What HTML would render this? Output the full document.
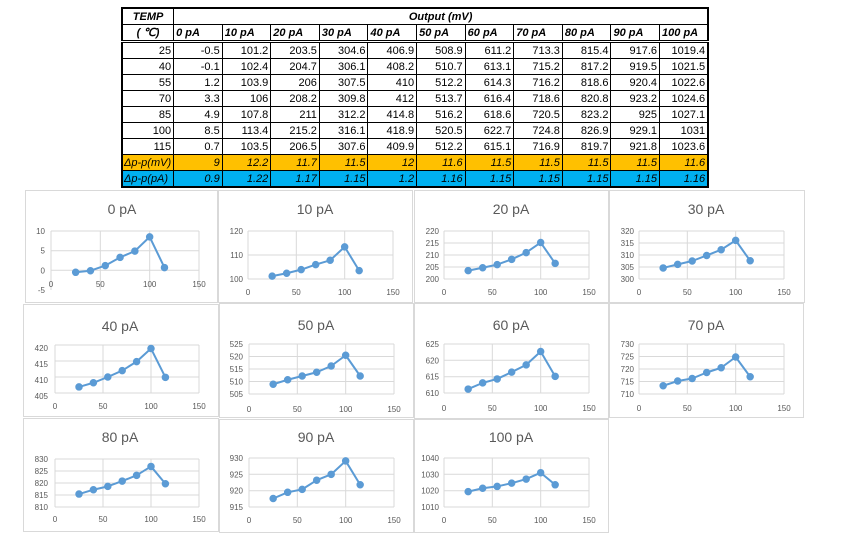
<!DOCTYPE html>
<html><head><meta charset="utf-8"><style>
body{margin:0;width:848px;height:535px;background:#fff;position:relative;overflow:hidden;font-family:"Liberation Sans",sans-serif}
table{position:absolute;left:121px;top:7px;border-collapse:collapse;border:2px solid #000;font-size:11px;table-layout:fixed}
td{border:1px solid #000;padding:0 2px;height:15px;text-align:right;line-height:14px;white-space:nowrap;overflow:hidden}
.h{font-weight:bold;font-style:italic;text-align:left}
.c{text-align:center}
tr.hb td{border-bottom:3px double #000}
tr.o td{background:#FFC000;font-style:italic}
tr.b td{background:#00B0F0;font-style:italic}
tr.o td:first-child,tr.b td:first-child{text-align:left;padding-left:1px}
svg{position:absolute;left:0;top:0}
.pan{fill:#fff;stroke:#d9d9d9;stroke-width:1}
.t{font-size:14px;fill:#595959;text-anchor:middle}
.g{stroke:#d9d9d9;stroke-width:1}
.yl{font-size:8px;fill:#595959;text-anchor:end}
.xl{font-size:8px;fill:#595959;text-anchor:middle}
.ln{fill:none;stroke:#5B9BD5;stroke-width:2;vector-effect:non-scaling-stroke;stroke-linejoin:round}
.dt{fill:none;stroke:#5B9BD5;stroke-width:7.5;stroke-linecap:round;vector-effect:non-scaling-stroke}
</style></head><body>
<table>
<colgroup><col style="width:46px"><col span="11" style="width:48.6px"></colgroup>
<tr><td class="h c">TEMP</td><td class="h c" colspan="11">Output (mV)</td></tr>
<tr class="hb"><td class="h c">( ℃)</td><td class="h">0 pA</td><td class="h">10 pA</td><td class="h">20 pA</td><td class="h">30 pA</td><td class="h">40 pA</td><td class="h">50 pA</td><td class="h">60 pA</td><td class="h">70 pA</td><td class="h">80 pA</td><td class="h">90 pA</td><td class="h">100 pA</td></tr>
<tr><td>25</td><td>-0.5</td><td>101.2</td><td>203.5</td><td>304.6</td><td>406.9</td><td>508.9</td><td>611.2</td><td>713.3</td><td>815.4</td><td>917.6</td><td>1019.4</td></tr>
<tr><td>40</td><td>-0.1</td><td>102.4</td><td>204.7</td><td>306.1</td><td>408.2</td><td>510.7</td><td>613.1</td><td>715.2</td><td>817.2</td><td>919.5</td><td>1021.5</td></tr>
<tr><td>55</td><td>1.2</td><td>103.9</td><td>206</td><td>307.5</td><td>410</td><td>512.2</td><td>614.3</td><td>716.2</td><td>818.6</td><td>920.4</td><td>1022.6</td></tr>
<tr><td>70</td><td>3.3</td><td>106</td><td>208.2</td><td>309.8</td><td>412</td><td>513.7</td><td>616.4</td><td>718.6</td><td>820.8</td><td>923.2</td><td>1024.6</td></tr>
<tr><td>85</td><td>4.9</td><td>107.8</td><td>211</td><td>312.2</td><td>414.8</td><td>516.2</td><td>618.6</td><td>720.5</td><td>823.2</td><td>925</td><td>1027.1</td></tr>
<tr><td>100</td><td>8.5</td><td>113.4</td><td>215.2</td><td>316.1</td><td>418.9</td><td>520.5</td><td>622.7</td><td>724.8</td><td>826.9</td><td>929.1</td><td>1031</td></tr>
<tr><td>115</td><td>0.7</td><td>103.5</td><td>206.5</td><td>307.6</td><td>409.9</td><td>512.2</td><td>615.1</td><td>716.9</td><td>819.7</td><td>921.8</td><td>1023.6</td></tr>
<tr class="o"><td>Δp-p(mV)</td><td>9</td><td>12.2</td><td>11.7</td><td>11.5</td><td>12</td><td>11.6</td><td>11.5</td><td>11.5</td><td>11.5</td><td>11.5</td><td>11.6</td></tr>
<tr class="b"><td>Δp-p(pA)</td><td>0.9</td><td>1.22</td><td>1.17</td><td>1.15</td><td>1.2</td><td>1.16</td><td>1.15</td><td>1.15</td><td>1.15</td><td>1.15</td><td>1.16</td></tr>
</table>
<svg width="848" height="535" style="top:0;pointer-events:none">
<g transform="translate(25,190)">
<rect class="pan" x="0.5" y="0.5" width="192" height="112"/>
<text class="t" x="97" y="24">0 pA</text>
<line class="g" x1="26" y1="41" x2="174" y2="41"/><line class="g" x1="26" y1="60.7" x2="174" y2="60.7"/><line class="g" x1="26" y1="80.3" x2="174" y2="80.3"/>
<line class="g" x1="26" y1="41" x2="26" y2="100"/><line class="g" x1="75.3" y1="41" x2="75.3" y2="100"/><line class="g" x1="124.7" y1="41" x2="124.7" y2="100"/><line class="g" x1="174" y1="41" x2="174" y2="100"/>
<text class="yl" x="20" y="44">10</text><text class="yl" x="20" y="63.7">5</text><text class="yl" x="20" y="83.3">0</text><text class="yl" x="20" y="103">-5</text>
<text class="xl" x="26" y="97">0</text><text class="xl" x="75.3" y="97">50</text><text class="xl" x="124.7" y="97">100</text><text class="xl" x="174" y="97">150</text>
<g transform="translate(26,100) scale(0.9867,-3.933) translate(0,5)">
<polyline class="ln" points="25,-0.5 40,-0.1 55,1.2 70,3.3 85,4.9 100,8.5 115,0.7"/>
<path class="dt" d="M25 -0.5h0M40 -0.1h0M55 1.2h0M70 3.3h0M85 4.9h0M100 8.5h0M115 0.7h0"/></g>
</g>
<g transform="translate(218,190)">
<rect class="pan" x="0.5" y="0.5" width="194" height="112"/>
<text class="t" x="97" y="24">10 pA</text>
<line class="g" x1="30" y1="41" x2="175" y2="41"/><line class="g" x1="30" y1="65" x2="175" y2="65"/><line class="g" x1="30" y1="89" x2="175" y2="89"/>
<line class="g" x1="30" y1="41" x2="30" y2="89"/><line class="g" x1="78.3" y1="41" x2="78.3" y2="89"/><line class="g" x1="126.7" y1="41" x2="126.7" y2="89"/><line class="g" x1="175" y1="41" x2="175" y2="89"/>
<text class="yl" x="25" y="44">120</text><text class="yl" x="25" y="68">110</text><text class="yl" x="25" y="92">100</text>
<text class="xl" x="30" y="105">0</text><text class="xl" x="78.3" y="105">50</text><text class="xl" x="126.7" y="105">100</text><text class="xl" x="175" y="105">150</text>
<g transform="translate(30,89) scale(0.9667,-2.4) translate(0,-100)">
<polyline class="ln" points="25,101.2 40,102.4 55,103.9 70,106 85,107.8 100,113.4 115,103.5"/>
<path class="dt" d="M25 101.2h0M40 102.4h0M55 103.9h0M70 106h0M85 107.8h0M100 113.4h0M115 103.5h0"/></g>
</g>
<g transform="translate(414,190)">
<rect class="pan" x="0.5" y="0.5" width="194" height="112"/>
<text class="t" x="97" y="24">20 pA</text>
<line class="g" x1="30" y1="41" x2="175" y2="41"/><line class="g" x1="30" y1="53" x2="175" y2="53"/><line class="g" x1="30" y1="65" x2="175" y2="65"/><line class="g" x1="30" y1="77" x2="175" y2="77"/><line class="g" x1="30" y1="89" x2="175" y2="89"/>
<line class="g" x1="30" y1="41" x2="30" y2="89"/><line class="g" x1="78.3" y1="41" x2="78.3" y2="89"/><line class="g" x1="126.7" y1="41" x2="126.7" y2="89"/><line class="g" x1="175" y1="41" x2="175" y2="89"/>
<text class="yl" x="25" y="44">220</text><text class="yl" x="25" y="56">215</text><text class="yl" x="25" y="68">210</text><text class="yl" x="25" y="80">205</text><text class="yl" x="25" y="92">200</text>
<text class="xl" x="30" y="105">0</text><text class="xl" x="78.3" y="105">50</text><text class="xl" x="126.7" y="105">100</text><text class="xl" x="175" y="105">150</text>
<g transform="translate(30,89) scale(0.9667,-2.4) translate(0,-200)">
<polyline class="ln" points="25,203.5 40,204.7 55,206 70,208.2 85,211 100,215.2 115,206.5"/>
<path class="dt" d="M25 203.5h0M40 204.7h0M55 206h0M70 208.2h0M85 211h0M100 215.2h0M115 206.5h0"/></g>
</g>
<g transform="translate(609,190)">
<rect class="pan" x="0.5" y="0.5" width="195" height="112"/>
<text class="t" x="97" y="24">30 pA</text>
<line class="g" x1="30" y1="41" x2="175" y2="41"/><line class="g" x1="30" y1="53" x2="175" y2="53"/><line class="g" x1="30" y1="65" x2="175" y2="65"/><line class="g" x1="30" y1="77" x2="175" y2="77"/><line class="g" x1="30" y1="89" x2="175" y2="89"/>
<line class="g" x1="30" y1="41" x2="30" y2="89"/><line class="g" x1="78.3" y1="41" x2="78.3" y2="89"/><line class="g" x1="126.7" y1="41" x2="126.7" y2="89"/><line class="g" x1="175" y1="41" x2="175" y2="89"/>
<text class="yl" x="25" y="44">320</text><text class="yl" x="25" y="56">315</text><text class="yl" x="25" y="68">310</text><text class="yl" x="25" y="80">305</text><text class="yl" x="25" y="92">300</text>
<text class="xl" x="30" y="105">0</text><text class="xl" x="78.3" y="105">50</text><text class="xl" x="126.7" y="105">100</text><text class="xl" x="175" y="105">150</text>
<g transform="translate(30,89) scale(0.9667,-2.4) translate(0,-300)">
<polyline class="ln" points="25,304.6 40,306.1 55,307.5 70,309.8 85,312.2 100,316.1 115,307.6"/>
<path class="dt" d="M25 304.6h0M40 306.1h0M55 307.5h0M70 309.8h0M85 312.2h0M100 316.1h0M115 307.6h0"/></g>
</g>
<g transform="translate(23,304)">
<rect class="pan" x="0.5" y="0.5" width="195" height="112"/>
<text class="t" x="97" y="27">40 pA</text>
<line class="g" x1="32" y1="41" x2="176" y2="41"/><line class="g" x1="32" y1="57" x2="176" y2="57"/><line class="g" x1="32" y1="73" x2="176" y2="73"/><line class="g" x1="32" y1="89" x2="176" y2="89"/>
<line class="g" x1="32" y1="41" x2="32" y2="89"/><line class="g" x1="80" y1="41" x2="80" y2="89"/><line class="g" x1="128" y1="41" x2="128" y2="89"/><line class="g" x1="176" y1="41" x2="176" y2="89"/>
<text class="yl" x="25" y="47">420</text><text class="yl" x="25" y="63">415</text><text class="yl" x="25" y="79">410</text><text class="yl" x="25" y="95">405</text>
<text class="xl" x="32" y="105">0</text><text class="xl" x="80" y="105">50</text><text class="xl" x="128" y="105">100</text><text class="xl" x="176" y="105">150</text>
<g transform="translate(32,89) scale(0.96,-3.2) translate(0,-405)">
<polyline class="ln" points="25,406.9 40,408.2 55,410 70,412 85,414.8 100,418.9 115,409.9"/>
<path class="dt" d="M25 406.9h0M40 408.2h0M55 410h0M70 412h0M85 414.8h0M100 418.9h0M115 409.9h0"/></g>
</g>
<g transform="translate(219,303)">
<rect class="pan" x="0.5" y="0.5" width="194" height="114"/>
<text class="t" x="97" y="27">50 pA</text>
<line class="g" x1="30" y1="41" x2="175" y2="41"/><line class="g" x1="30" y1="53.5" x2="175" y2="53.5"/><line class="g" x1="30" y1="66" x2="175" y2="66"/><line class="g" x1="30" y1="78.5" x2="175" y2="78.5"/><line class="g" x1="30" y1="91" x2="175" y2="91"/>
<line class="g" x1="30" y1="41" x2="30" y2="91"/><line class="g" x1="78.3" y1="41" x2="78.3" y2="91"/><line class="g" x1="126.7" y1="41" x2="126.7" y2="91"/><line class="g" x1="175" y1="41" x2="175" y2="91"/>
<text class="yl" x="24" y="44">525</text><text class="yl" x="24" y="56.5">520</text><text class="yl" x="24" y="69">515</text><text class="yl" x="24" y="81.5">510</text><text class="yl" x="24" y="94">505</text>
<text class="xl" x="30" y="109">0</text><text class="xl" x="78.3" y="109">50</text><text class="xl" x="126.7" y="109">100</text><text class="xl" x="175" y="109">150</text>
<g transform="translate(30,91) scale(0.9667,-2.5) translate(0,-505)">
<polyline class="ln" points="25,508.9 40,510.7 55,512.2 70,513.7 85,516.2 100,520.5 115,512.2"/>
<path class="dt" d="M25 508.9h0M40 510.7h0M55 512.2h0M70 513.7h0M85 516.2h0M100 520.5h0M115 512.2h0"/></g>
</g>
<g transform="translate(414,303)">
<rect class="pan" x="0.5" y="0.5" width="194" height="115"/>
<text class="t" x="97" y="27">60 pA</text>
<line class="g" x1="30" y1="41" x2="175" y2="41"/><line class="g" x1="30" y1="57.3" x2="175" y2="57.3"/><line class="g" x1="30" y1="73.7" x2="175" y2="73.7"/><line class="g" x1="30" y1="90" x2="175" y2="90"/>
<line class="g" x1="30" y1="41" x2="30" y2="90"/><line class="g" x1="78.3" y1="41" x2="78.3" y2="90"/><line class="g" x1="126.7" y1="41" x2="126.7" y2="90"/><line class="g" x1="175" y1="41" x2="175" y2="90"/>
<text class="yl" x="25" y="44">625</text><text class="yl" x="25" y="60.3">620</text><text class="yl" x="25" y="76.7">615</text><text class="yl" x="25" y="93">610</text>
<text class="xl" x="30" y="108">0</text><text class="xl" x="78.3" y="108">50</text><text class="xl" x="126.7" y="108">100</text><text class="xl" x="175" y="108">150</text>
<g transform="translate(30,90) scale(0.9667,-3.267) translate(0,-610)">
<polyline class="ln" points="25,611.2 40,613.1 55,614.3 70,616.4 85,618.6 100,622.7 115,615.1"/>
<path class="dt" d="M25 611.2h0M40 613.1h0M55 614.3h0M70 616.4h0M85 618.6h0M100 622.7h0M115 615.1h0"/></g>
</g>
<g transform="translate(609,303)">
<rect class="pan" x="0.5" y="0.5" width="194" height="114"/>
<text class="t" x="97" y="27">70 pA</text>
<line class="g" x1="30" y1="41" x2="175" y2="41"/><line class="g" x1="30" y1="53.5" x2="175" y2="53.5"/><line class="g" x1="30" y1="66" x2="175" y2="66"/><line class="g" x1="30" y1="78.5" x2="175" y2="78.5"/><line class="g" x1="30" y1="91" x2="175" y2="91"/>
<line class="g" x1="30" y1="41" x2="30" y2="91"/><line class="g" x1="78.3" y1="41" x2="78.3" y2="91"/><line class="g" x1="126.7" y1="41" x2="126.7" y2="91"/><line class="g" x1="175" y1="41" x2="175" y2="91"/>
<text class="yl" x="25" y="44">730</text><text class="yl" x="25" y="56.5">725</text><text class="yl" x="25" y="69">720</text><text class="yl" x="25" y="81.5">715</text><text class="yl" x="25" y="94">710</text>
<text class="xl" x="30" y="108">0</text><text class="xl" x="78.3" y="108">50</text><text class="xl" x="126.7" y="108">100</text><text class="xl" x="175" y="108">150</text>
<g transform="translate(30,91) scale(0.9667,-2.5) translate(0,-710)">
<polyline class="ln" points="25,713.3 40,715.2 55,716.2 70,718.6 85,720.5 100,724.8 115,716.9"/>
<path class="dt" d="M25 713.3h0M40 715.2h0M55 716.2h0M70 718.6h0M85 720.5h0M100 724.8h0M115 716.9h0"/></g>
</g>
<g transform="translate(23,418)">
<rect class="pan" x="0.5" y="0.5" width="195" height="113"/>
<text class="t" x="97" y="24">80 pA</text>
<line class="g" x1="32" y1="41" x2="176" y2="41"/><line class="g" x1="32" y1="53" x2="176" y2="53"/><line class="g" x1="32" y1="65" x2="176" y2="65"/><line class="g" x1="32" y1="77" x2="176" y2="77"/><line class="g" x1="32" y1="89" x2="176" y2="89"/>
<line class="g" x1="32" y1="41" x2="32" y2="89"/><line class="g" x1="80" y1="41" x2="80" y2="89"/><line class="g" x1="128" y1="41" x2="128" y2="89"/><line class="g" x1="176" y1="41" x2="176" y2="89"/>
<text class="yl" x="25" y="44">830</text><text class="yl" x="25" y="56">825</text><text class="yl" x="25" y="68">820</text><text class="yl" x="25" y="80">815</text><text class="yl" x="25" y="92">810</text>
<text class="xl" x="32" y="104">0</text><text class="xl" x="80" y="104">50</text><text class="xl" x="128" y="104">100</text><text class="xl" x="176" y="104">150</text>
<g transform="translate(32,89) scale(0.96,-2.4) translate(0,-810)">
<polyline class="ln" points="25,815.4 40,817.2 55,818.6 70,820.8 85,823.2 100,826.9 115,819.7"/>
<path class="dt" d="M25 815.4h0M40 817.2h0M55 818.6h0M70 820.8h0M85 823.2h0M100 826.9h0M115 819.7h0"/></g>
</g>
<g transform="translate(219,419)">
<rect class="pan" x="0.5" y="0.5" width="194" height="113"/>
<text class="t" x="97" y="23">90 pA</text>
<line class="g" x1="30" y1="39" x2="175" y2="39"/><line class="g" x1="30" y1="55.3" x2="175" y2="55.3"/><line class="g" x1="30" y1="71.7" x2="175" y2="71.7"/><line class="g" x1="30" y1="88" x2="175" y2="88"/>
<line class="g" x1="30" y1="39" x2="30" y2="88"/><line class="g" x1="78.3" y1="39" x2="78.3" y2="88"/><line class="g" x1="126.7" y1="39" x2="126.7" y2="88"/><line class="g" x1="175" y1="39" x2="175" y2="88"/>
<text class="yl" x="24" y="42">930</text><text class="yl" x="24" y="58.3">925</text><text class="yl" x="24" y="74.7">920</text><text class="yl" x="24" y="91">915</text>
<text class="xl" x="30" y="104">0</text><text class="xl" x="78.3" y="104">50</text><text class="xl" x="126.7" y="104">100</text><text class="xl" x="175" y="104">150</text>
<g transform="translate(30,88) scale(0.9667,-3.267) translate(0,-915)">
<polyline class="ln" points="25,917.6 40,919.5 55,920.4 70,923.2 85,925 100,929.1 115,921.8"/>
<path class="dt" d="M25 917.6h0M40 919.5h0M55 920.4h0M70 923.2h0M85 925h0M100 929.1h0M115 921.8h0"/></g>
</g>
<g transform="translate(414,419)">
<rect class="pan" x="0.5" y="0.5" width="194" height="113"/>
<text class="t" x="97" y="23">100 pA</text>
<line class="g" x1="30" y1="39" x2="175" y2="39"/><line class="g" x1="30" y1="55.3" x2="175" y2="55.3"/><line class="g" x1="30" y1="71.7" x2="175" y2="71.7"/><line class="g" x1="30" y1="88" x2="175" y2="88"/>
<line class="g" x1="30" y1="39" x2="30" y2="88"/><line class="g" x1="78.3" y1="39" x2="78.3" y2="88"/><line class="g" x1="126.7" y1="39" x2="126.7" y2="88"/><line class="g" x1="175" y1="39" x2="175" y2="88"/>
<text class="yl" x="25" y="42">1040</text><text class="yl" x="25" y="58.3">1030</text><text class="yl" x="25" y="74.7">1020</text><text class="yl" x="25" y="91">1010</text>
<text class="xl" x="30" y="104">0</text><text class="xl" x="78.3" y="104">50</text><text class="xl" x="126.7" y="104">100</text><text class="xl" x="175" y="104">150</text>
<g transform="translate(30,88) scale(0.9667,-1.633) translate(0,-1010)">
<polyline class="ln" points="25,1019.4 40,1021.5 55,1022.6 70,1024.6 85,1027.1 100,1031 115,1023.6"/>
<path class="dt" d="M25 1019.4h0M40 1021.5h0M55 1022.6h0M70 1024.6h0M85 1027.1h0M100 1031h0M115 1023.6h0"/></g>
</g>
</svg>
</body></html>
